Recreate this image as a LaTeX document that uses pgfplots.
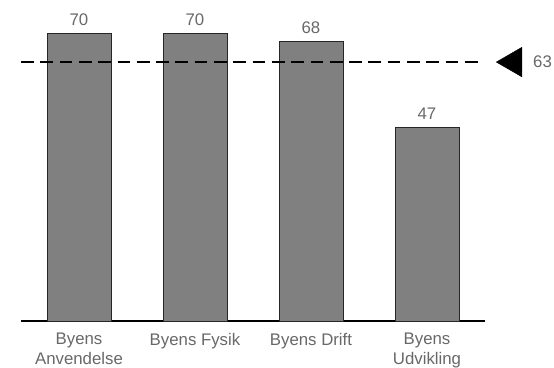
\documentclass[border=0pt]{standalone}
\usepackage{pgfplots}
\pgfplotsset{compat=1.18}
\usepackage{fontspec}
\setmainfont{Liberation Sans}
\definecolor{barfill}{HTML}{808080}
\definecolor{lab}{HTML}{686868}
\begin{document}
\begin{tikzpicture}
\useasboundingbox (-21pt,-46pt) rectangle (533pt,321pt);
\begin{axis}[
  at={(0,0)}, anchor=south west, scale only axis,
  width=464pt, height=321pt,
  xmin=-0.5, xmax=3.5, ymin=0, ymax=78.1,
  axis y line=none, axis x line*=bottom,
  axis line style={-, line width=1.3pt, black},
  xtick={0,1,2,3},
  xticklabels={{Byens\\Anvendelse},{Byens Fysik},{Byens Drift},{Byens\\Udvikling}},
  xticklabel style={align=center, font=\fontsize{16.8}{19.5}\selectfont, text=lab, inner sep=0pt, yshift=-12pt},
  major tick length=0pt,
  clip=false,
  /pgf/number format/assume math mode=true,
]
\addplot[ybar, bar width=64pt, bar shift=0pt, fill=barfill, draw=black!85, line width=0.8pt,
  nodes near coords,
  every node near coord/.append style={font=\fontsize{16.8}{19}\selectfont, text=lab, inner sep=0pt, anchor=south, yshift=7.5pt}]
  coordinates {(0,70) (1,70) (2,68) (3,47)};
\addplot[black, dash pattern=on 12.7pt off 6.6pt, line width=2pt] coordinates {(-0.5,63) (3.457,63)};
\addplot[only marks, mark=triangle*, mark size=17pt, mark options={rotate=90, fill=black, draw=none}] coordinates {(3.744,63)};
\node[anchor=west, inner sep=0pt, xshift=19.7pt, font=\fontsize{16.8}{19}\selectfont, text=lab] at (axis cs:3.744,63) {63};
\end{axis}
\end{tikzpicture}
\end{document}
